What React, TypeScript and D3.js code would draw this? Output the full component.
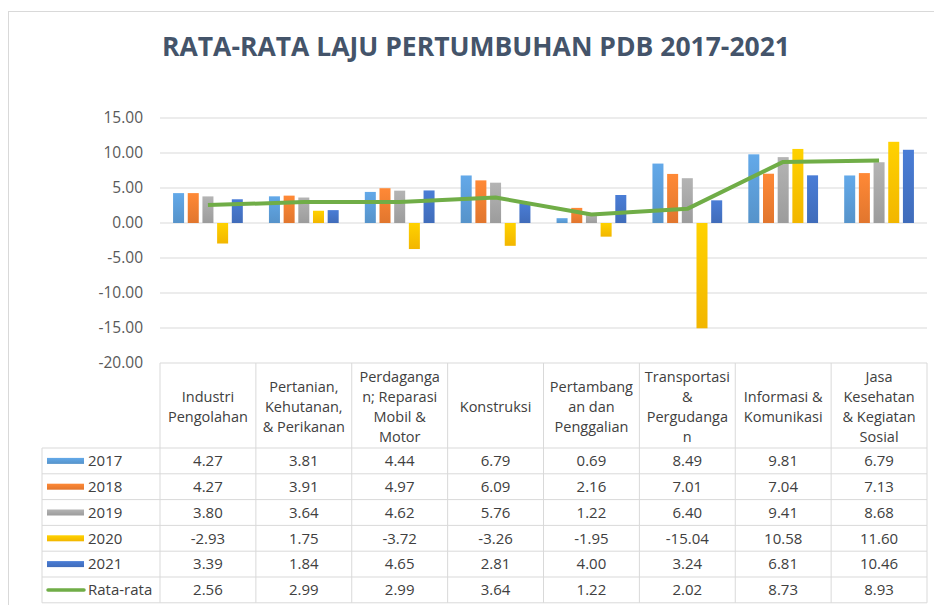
import React from 'react';
import * as d3 from 'd3';

const categories = [
  'Industri Pengolahan',
  'Pertanian, Kehutanan, & Perikanan',
  'Perdagangan; Reparasi Mobil & Motor',
  'Konstruksi',
  'Pertambangan dan Penggalian',
  'Transportasi & Pergudangan',
  'Informasi & Komunikasi',
  'Jasa Kesehatan & Kegiatan Sosial',
];

// header lines as wrapped in the data table
const headerLines = [
  ['Industri', 'Pengolahan'],
  ['Pertanian,', 'Kehutanan,', '& Perikanan'],
  ['Perdaganga', 'n; Reparasi', 'Mobil &', 'Motor'],
  ['Konstruksi'],
  ['Pertambang', 'an dan', 'Penggalian'],
  ['Transportasi', '&', 'Pergudanga', 'n'],
  ['Informasi &', 'Komunikasi'],
  ['Jasa', 'Kesehatan', '& Kegiatan', 'Sosial'],
];

const years = ['2017', '2018', '2019', '2020', '2021'];

const v2017 = [4.27, 3.81, 4.44, 6.79, 0.69, 8.49, 9.81, 6.79];
const v2018 = [4.27, 3.91, 4.97, 6.09, 2.16, 7.01, 7.04, 7.13];
const v2019 = [3.80, 3.64, 4.62, 5.76, 1.22, 6.40, 9.41, 8.68];
const v2020 = [-2.93, 1.75, -3.72, -3.26, -1.95, -15.04, 10.58, 11.60];
const v2021 = [3.39, 1.84, 4.65, 2.81, 4.00, 3.24, 6.81, 10.46];
const rataRata = [2.56, 2.99, 2.99, 3.64, 1.22, 2.02, 8.73, 8.93];

const yTicks = [15, 10, 5, 0, -5, -10, -15, -20];

const seriesValues = [v2017, v2018, v2019, v2020, v2021];
const colors = ['#5B9BD5', '#ED7D31', '#A5A5A5', '#FFC000', '#4472C4'];
const lineColor = '#70AD47';

const W = 934;
const H = 605;
const font = "'Open Sans', sans-serif";

export default function App() {
  const x = d3.scaleBand().domain(categories).range([160, 927]);
  const xs = d3.scaleBand().domain(years).range([0, x.bandwidth()]).paddingInner(0.25).paddingOuter(0.89);
  const y = d3.scaleLinear().domain([-20, 15]).range([363, 118]);

  const headerTop = y(-20);
  const headerBottom = 448;
  const rowH = 25.8;
  const rowLabels = [...years, 'Rata-rata'];
  const rowValues = [...seriesValues, rataRata];
  const tableBottom = headerBottom + rowH * rowLabels.length;
  const legendLeft = 42;

  const line = d3.line<number>()
    .x((d, i) => (x(categories[i]) as number) + x.bandwidth() / 2)
    .y(d => y(d));

  return (
    <svg width={W} height={H} style={{ position: 'absolute', left: 0, top: 0, background: '#fff' }}>
      <defs>
        {colors.map((c, i) => (
          <linearGradient key={i} id={`g${i}`} x1="0" y1="0" x2="0" y2="1">
            <stop offset="0%" stopColor={d3.color(c)!.brighter(0.25).formatHex()} />
            <stop offset="100%" stopColor={d3.color(c)!.darker(0.15).formatHex()} />
          </linearGradient>
        ))}
      </defs>
      <rect x={8.5} y={11.5} width={W + 10} height={H + 10} fill="#fff" stroke="#d9d9d9" />

      <text x={476} y={56} textAnchor="middle" fontFamily={font} fontWeight={700} fontSize={26.5} fill="#44546A">
        RATA-RATA LAJU PERTUMBUHAN PDB 2017-2021
      </text>

      {/* gridlines and y labels */}
      {yTicks.map(t => (
        <g key={t}>
          {t !== -20 && <line x1={160} x2={927} y1={y(t)} y2={y(t)} stroke="#d9d9d9" />}
          <text x={143} y={y(t)} dy="0.35em" textAnchor="end" fontFamily={font} fontSize={15.5} fill="#595959">
            {t.toFixed(2)}
          </text>
        </g>
      ))}

      {/* bars */}
      {seriesValues.map((vals, si) => (
        <g key={si} fill={`url(#g${si})`}>
          {vals.map((v, ci) => (
            <rect
              key={ci}
              x={(x(categories[ci]) as number) + (xs(years[si]) as number)}
              y={Math.min(y(v), y(0))}
              width={xs.bandwidth()}
              height={Math.abs(y(v) - y(0))}
            />
          ))}
        </g>
      ))}

      <path d={line(rataRata) || ''} fill="none" stroke={lineColor} strokeWidth={4} strokeLinejoin="round" />

      {/* data table */}
      <g stroke="#d9d9d9" fill="none">
        <line x1={160} x2={927} y1={headerTop} y2={headerTop} />
        {categories.map(c => (
          <line key={c} x1={x(c)} x2={x(c)} y1={headerTop} y2={tableBottom} />
        ))}
        <line x1={927} x2={927} y1={headerTop} y2={tableBottom} />
        <line x1={legendLeft} x2={legendLeft} y1={headerBottom} y2={tableBottom} />
        {d3.range(rowLabels.length + 1).map(i => (
          <line key={i} x1={legendLeft} x2={927} y1={headerBottom + i * rowH} y2={headerBottom + i * rowH} />
        ))}
      </g>

      {headerLines.map((lines, ci) => {
        const cx = (x(categories[ci]) as number) + x.bandwidth() / 2;
        const lh = 20;
        const top = (headerTop + headerBottom) / 2 + 1 - (lines.length - 1) * lh / 2;
        return (
          <text key={ci} textAnchor="middle" fontFamily={font} fontSize={14.5} fill="#404040">
            {lines.map((l, li) => (
              <tspan key={li} x={cx} y={top + li * lh} dy="0.35em">{l}</tspan>
            ))}
          </text>
        );
      })}

      {rowLabels.map((lab, ri) => {
        const cy = headerBottom + ri * rowH + rowH / 2;
        return (
          <g key={lab}>
            {ri < years.length ? (
              <rect x={47} y={cy - 3} width={37} height={6} fill={`url(#g${ri})`} />
            ) : (
              <line x1={48} x2={84} y1={cy} y2={cy} stroke={lineColor} strokeWidth={3.5} strokeLinecap="round" />
            )}
            <text x={88} y={cy} dy="0.35em" fontFamily={font} fontSize={15} fill="#404040">{lab}</text>
            {rowValues[ri].map((v, ci) => (
              <text
                key={ci}
                x={(x(categories[ci]) as number) + x.bandwidth() / 2}
                y={cy}
                dy="0.35em"
                textAnchor="middle"
                fontFamily={font}
                fontSize={15}
                fill="#404040"
              >
                {v.toFixed(2)}
              </text>
            ))}
          </g>
        );
      })}
    </svg>
  );
}
